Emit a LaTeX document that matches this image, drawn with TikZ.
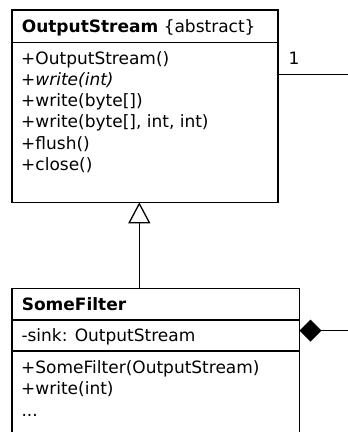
\documentclass[tikz,border=0pt]{standalone}
\usepackage{fontspec}
\setmainfont{DejaVu Sans}
\usetikzlibrary{arrows.meta}
\begin{document}
\begin{tikzpicture}[x=1pt,y=-1pt,
  umlline/.style={line width=1.3pt,black},
  classbox/.style={draw,line width=1.3pt,anchor=north west,inner sep=0pt,outer sep=0pt},
  txt/.style={anchor=base west,inner sep=0pt,outer sep=0pt,font=\fontsize{17}{21}\selectfont}]
\useasboundingbox (0,0) rectangle (348,432);
\clip (0,0) rectangle (348,432);
% boxes
\node[classbox,minimum width=266pt,minimum height=192.3pt] (os) at (12,10) {};
\node[classbox,minimum width=287.5pt,minimum height=160pt] (sf) at (12,288.3) {};
% separators
\coordinate (ossep) at (0,42.6);
\draw[umlline] (os.west |- ossep) -- (os.east |- ossep);
\coordinate (sfsep1) at (0,320);
\coordinate (sfsep2) at (0,351);
\draw[umlline] (sf.west |- sfsep1) -- (sf.east |- sfsep1);
\draw[umlline] (sf.west |- sfsep2) -- (sf.east |- sfsep2);
% OutputStream texts
\node[txt] (osname) at (21.8,32.5) {\textbf{OutputStream} \{abstract\}};
\node[txt] (m1) at (21.2,64) {+OutputStream()};
\node[txt] (m2) at (21.2,85.3) {\itshape +write(int)};
\node[txt] (m3) at (21.2,106.5) {+write(byte[])};
\node[txt] (m4) at (21.2,127.7) {+write(byte[], int, int)};
\node[txt] (m5) at (21.2,149) {+flush()};
\node[txt] (m6) at (21.2,170.2) {+close()};
% SomeFilter texts
\node[txt] (sfname) at (21.8,310.2) {\textbf{SomeFilter}};
\node[txt] (a1) at (21.5,341.5) {-sink: OutputStream};
\node[txt] (f1) at (21.2,373.5) {+SomeFilter(OutputStream)};
\node[txt] (f2) at (21.2,394.7) {+write(int)};
\node[txt] (f3) at (21.5,416) {...};
% generalization
\coordinate (inh) at (139.3,0);
\draw[umlline,-{Triangle[open,length=21pt,width=22pt,line width=1.3pt]}] (sf.north -| inh) -- (os.south -| inh);
% association from OutputStream
\coordinate (osy) at (0,74.7);
\coordinate (osend) at (348,74.7);
\draw[umlline] (os.east |- osy) -- (osend);
\node[txt] (mult) at (288.5,64) {1};
% composition from SomeFilter
\coordinate (sfy) at (0,330.5);
\coordinate (sfend) at (348,330.5);
\draw[umlline,{Diamond[length=22pt,width=22pt,line width=0pt]}-] (sf.east |- sfy) -- (sfend);
\end{tikzpicture}
\end{document}
